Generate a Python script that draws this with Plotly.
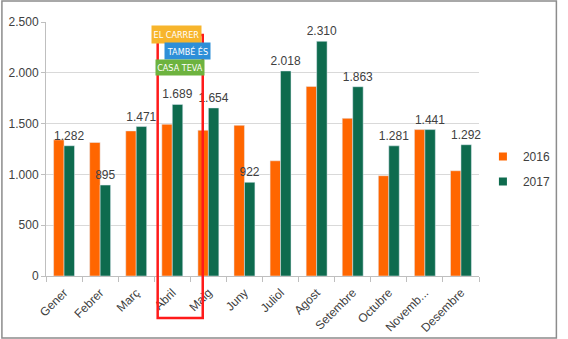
import plotly.graph_objects as go

months = ["Gener", "Febrer", "Març", "Abril", "Maig", "Juny", "Juliol",
          "Agost", "Setembre", "Octubre", "Novemb...", "Desembre"]
values_2016 = [1340, 1314, 1428, 1493, 1435, 1483, 1134, 1866, 1552, 987, 1441, 1036]
values_2017 = [1282, 895, 1471, 1689, 1654, 922, 2018, 2310, 1863, 1281, 1441, 1292]
y_ticks = [0, 500, 1000, 1500, 2000, 2500]

ORANGE = "#FF6600"
GREEN = "#0E6B4E"
TXT = "#404040"
FONT = "Liberation Sans, Arial, sans-serif"

W, H = 568, 339
ML, MR, MT, MB = 46, 80, 22, 63
PW, PH = W - ML - MR, H - MT - MB


def px(x):
    return (x - ML) / PW


def py(y):
    return (H - MB - y) / PH


fig = go.Figure()
fig.add_trace(go.Bar(x=months, y=values_2016, name="2016", marker_color=ORANGE,
                     showlegend=False))
fig.add_trace(go.Bar(x=months, y=values_2017, name="2017", marker_color=GREEN,
                     texttemplate="%{y:,}", textposition="outside",
                     constraintext="none",
                     textfont=dict(color=TXT, size=12, family=FONT),
                     cliponaxis=False, showlegend=False))
# legend entries with small square keys (no data drawn)
for name, col, grp in [("2016", ORANGE, "a"), ("2017", GREEN, "b")]:
    fig.add_trace(go.Scatter(x=[None], y=[None], name=name, mode="markers",
                             marker=dict(symbol="square", size=8, color=col),
                             legendgroup=grp, hoverinfo="skip"))

shapes = [
    # outer frame
    dict(type="rect", xref="paper", yref="paper", x0=px(1), x1=px(567),
         y0=py(338), y1=py(1), line=dict(color="#8C8C8C", width=1.5)),
    # red highlight box
    dict(type="rect", xref="paper", yref="paper", x0=px(160), x1=px(206),
         y0=py(318), y1=py(35), line=dict(color="#FF1A1A", width=2.5)),
]

logo_font = "Liberation Sans Narrow, DejaVu Sans Condensed, Arial Narrow, sans-serif"
logo = [
    ("EL CARRER", "#F7B52C", 179.5, 34.5, 49, 17),
    ("TAMBÉ ÉS", "#2E8FD8", 190.5, 51, 45, 16),
    ("CASA TEVA", "#6DB33F", 183, 67.5, 48, 15),
]
annotations = []
for t, c, x, y, w, h in logo:
    annotations.append(dict(text=t, xref="paper", yref="paper", x=px(x), y=py(y),
                            xanchor="center", yanchor="middle", showarrow=False,
                            bgcolor=c, width=w, height=h, borderpad=0,
                            font=dict(color="white", size=9, family=logo_font)))

fig.update_layout(
    width=W, height=H,
    margin=dict(l=ML, r=MR, t=MT, b=MB),
    paper_bgcolor="white", plot_bgcolor="white",
    separators=",.",
    barmode="group", bargap=0.42, bargroupgap=0,
    font=dict(family=FONT, size=12, color=TXT),
    showlegend=True,
    legend=dict(x=px(492), y=py(169), xanchor="left", yanchor="middle",
                font=dict(size=12, color=TXT), tracegroupgap=6,
                bgcolor="rgba(0,0,0,0)"),
    shapes=shapes,
    annotations=annotations,
    xaxis=dict(type="category", tickangle=-45, ticks="outside", tickson="boundaries",
               ticklen=5, tickcolor="#BFBFBF", showline=True, linecolor="#BFBFBF",
               tickfont=dict(size=12, color=TXT), showgrid=False, automargin=False,
               ticklabelstandoff=4),
    yaxis=dict(range=[0, 2500], tickvals=y_ticks, tickformat=",", ticks="outside",
               ticklen=4, tickcolor="#BFBFBF", showline=True, linecolor="#BFBFBF",
               gridcolor="#D9D9D9", zeroline=False, automargin=False,
               tickfont=dict(size=12, color=TXT)),
)

fig.write_html("out.html")
